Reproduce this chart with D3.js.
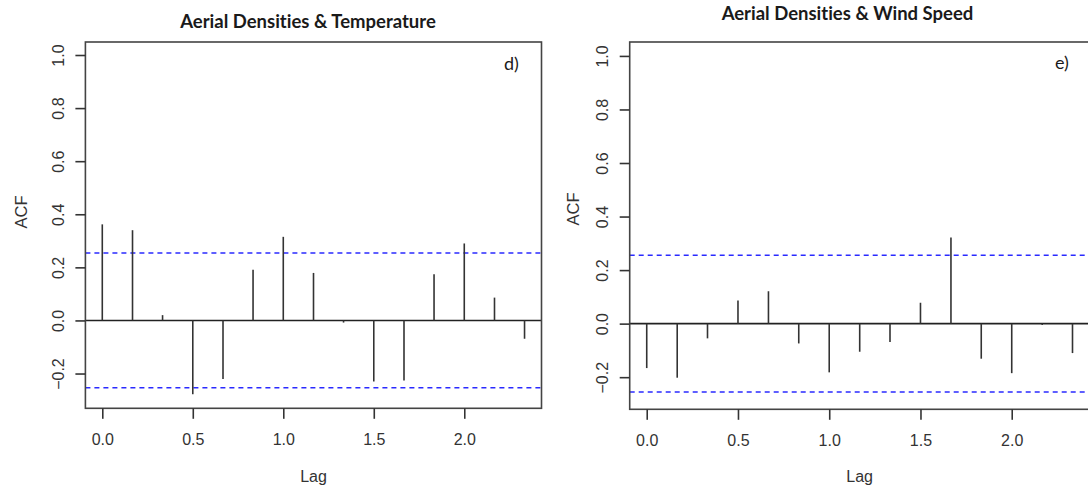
<!DOCTYPE html>
<html>
<head>
<meta charset="utf-8">
<script src="https://cdn.jsdelivr.net/npm/d3@7"></script>
<style>
  html, body { margin: 0; padding: 0; background: #fff; }
  svg { display: block; }
</style>
</head>
<body>
<svg id="chart" width="1088" height="491"></svg>
<script>
// ---- data ----
const lags = [0, 0.167, 0.333, 0.5, 0.667, 0.833, 1.0, 1.167, 1.333, 1.5, 1.667, 1.833, 2.0, 2.167, 2.333];
const acfTemperature = [0.362, 0.340, 0.020, -0.278, -0.221, 0.191, 0.315, 0.179, -0.008, -0.230, -0.226, 0.174, 0.290, 0.086, -0.069];
const acfWindSpeed = [-0.166, -0.202, -0.055, 0.086, 0.121, -0.074, -0.182, -0.105, -0.069, 0.078, 0.322, -0.131, -0.185, -0.005, -0.110];
const climTemperature = 0.254;
const climWindSpeed = 0.255;
const yTickValues = [-0.2, 0.0, 0.2, 0.4, 0.6, 0.8, 1.0];
const xTickValues = [0.0, 0.5, 1.0, 1.5, 2.0];
const titles = ["Aerial Densities & Temperature", "Aerial Densities & Wind Speed"];
const panelTags = ["d)", "e)"];
const xLabel = "Lag";
const yLabel = "ACF";

// ---- layout ----
const panels = [
  { values: acfTemperature, clim: climTemperature, title: titles[0], tag: panelTags[0],
    xr: [85.4, 541.5], yr: [408.3, 42], yd: [-0.331, 1.049],
    titleX: 308, titleY: 28, tagX: 504, tagY: 70, acfX: 27, acfY: 212, lagX: 313.5 },
  { values: acfWindSpeed, clim: climWindSpeed, title: titles[1], tag: panelTags[1],
    xr: [629.7, 1089.6], yr: [409.3, 42], yd: [-0.32, 1.052],
    titleX: 847.5, titleY: 19.5, tagX: 1055, tagY: 68.5, acfX: 579, acfY: 209, lagX: 859.6 }
];

const svg = d3.select("#chart");
const fmt = d3.format(".1f");
const tickFont = "'Liberation Sans', Arial, sans-serif";
const titleFont = "Lato, 'Open Sans', sans-serif";

panels.forEach(p => {
  const x = d3.scaleLinear().domain([-0.0933, 2.4267]).range(p.xr);
  const y = d3.scaleLinear().domain(p.yd).range(p.yr);
  const g = svg.append("g");

  // confidence bounds
  [p.clim, -p.clim].forEach(c => {
    g.append("line")
      .attr("x1", p.xr[0]).attr("x2", p.xr[1])
      .attr("y1", y(c)).attr("y2", y(c))
      .attr("stroke", "#2a2aff").attr("stroke-width", 1.5)
      .attr("stroke-dasharray", "5,4");
  });

  // zero line
  g.append("line")
    .attr("x1", p.xr[0]).attr("x2", p.xr[1])
    .attr("y1", y(0)).attr("y2", y(0))
    .attr("stroke", "#222").attr("stroke-width", 1.6);

  // ACF spikes
  g.selectAll("line.spike").data(p.values).enter().append("line")
    .attr("class", "spike")
    .attr("x1", (d, i) => x(lags[i])).attr("x2", (d, i) => x(lags[i]))
    .attr("y1", y(0)).attr("y2", d => y(d))
    .attr("stroke", "#333").attr("stroke-width", 1.6);

  // box
  g.append("rect")
    .attr("x", p.xr[0]).attr("y", p.yr[1])
    .attr("width", p.xr[1] - p.xr[0]).attr("height", p.yr[0] - p.yr[1])
    .attr("fill", "none").attr("stroke", "#444").attr("stroke-width", 1.6);

  // y axis
  const yAxis = d3.axisLeft(y).tickValues(yTickValues).tickSize(10).tickFormat(fmt);
  const ya = g.append("g").attr("transform", `translate(${p.xr[0]},0)`).call(yAxis);
  ya.select(".domain").remove();
  ya.selectAll(".tick line").attr("stroke", "#333").attr("stroke-width", 1.6);
  ya.selectAll(".tick text")
    .attr("x", null).attr("dy", null)
    .attr("transform", "translate(-21.5,0) rotate(-90)")
    .attr("text-anchor", "middle")
    .attr("fill", "#333")
    .style("font-family", tickFont).style("font-size", "16px");

  // x axis
  const xAxis = d3.axisBottom(x).tickValues(xTickValues).tickSize(10.5).tickFormat(fmt);
  const xa = g.append("g").attr("transform", `translate(0,${p.yr[0]})`).call(xAxis);
  xa.select(".domain").remove();
  xa.selectAll(".tick line").attr("stroke", "#333").attr("stroke-width", 1.6);
  xa.selectAll(".tick text")
    .attr("y", 36.5).attr("dy", null)
    .attr("fill", "#333")
    .style("font-family", tickFont).style("font-size", "16px");

  // axis titles
  g.append("text")
    .attr("transform", `translate(${p.acfX},${p.acfY}) rotate(-90)`)
    .attr("text-anchor", "middle")
    .attr("fill", "#333")
    .style("font-family", tickFont).style("font-size", "16.5px")
    .text(yLabel);
  g.append("text")
    .attr("x", p.lagX).attr("y", 482)
    .attr("text-anchor", "middle")
    .attr("fill", "#333")
    .style("font-family", tickFont).style("font-size", "16px")
    .text(xLabel);

  // chart title and panel tag
  g.append("text")
    .attr("x", p.titleX).attr("y", p.titleY)
    .attr("text-anchor", "middle")
    .attr("fill", "#1a1a1a")
    .style("font-family", titleFont)
    .style("font-variant-ligatures", "none")
    .style("font-weight", "bold").style("font-size", "18.5px")
    .text(p.title);
  g.append("text")
    .attr("x", p.tagX).attr("y", p.tagY)
    .attr("fill", "#1a1a1a")
    .style("font-family", titleFont)
    .style("font-size", "18px")
    .text(p.tag);
});
</script>
</body>
</html>
